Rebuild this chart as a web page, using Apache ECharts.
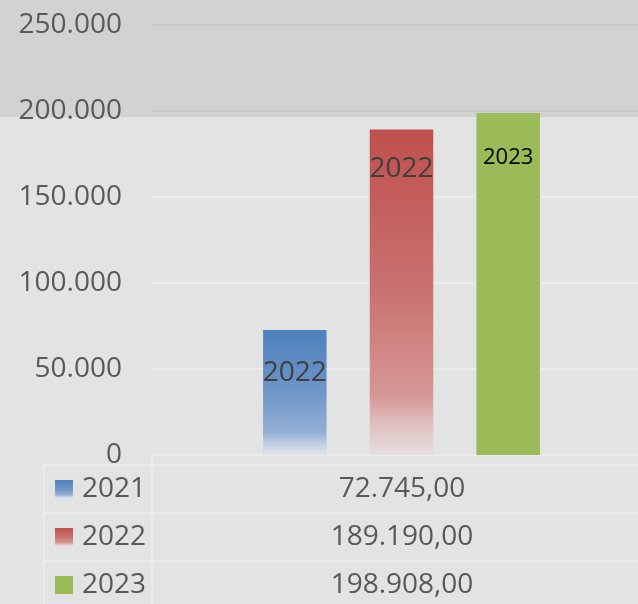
<!DOCTYPE html>
<html>
<head>
<meta charset="utf-8">
<script src="https://cdn.jsdelivr.net/npm/echarts@6/dist/echarts.min.js"></script>
<style>
  html, body { margin: 0; padding: 0; background: #e3e3e3; }
  #main { width: 638px; height: 604px; }
</style>
</head>
<body>
<div id="main"></div>
<script>
// series names (years) and values
let years = ['2021', '2022', '2023']
let values = [72745, 189190, 198908]
// text shown inside each bar
let barLabels = ['2022', '2022', '2023']
// y axis ticks
let yTicks = [0, 50000, 100000, 150000, 200000, 250000]

// colors
let textColor = '#595959'
let font = 'Open Sans'
let blueGrad = [[0, '#4f81bd'], [0.5, '#6f96c8'], [0.82, '#93afd6'], [0.9, '#bccbdf'], [1, '#e0e4ea']]
let redGrad = [[0, '#c0504d'], [0.5, '#c87270'], [0.82, '#d69796'], [0.9, '#dfbdbd'], [1, '#e5e0e0']]
let green = '#9bbb59'

function grad(stops) {
  return new echarts.graphic.LinearGradient(0, 0, 0, 1,
    stops.map(s => ({ offset: s[0], color: s[1] })))
}
let fills = [grad(blueGrad), grad(redGrad), green]

// number formatting: 72.745,00
function thousands(n) {
  return String(Math.round(n)).replace(/\B(?=(\d{3})+(?!\d))/g, '.')
}
function money(n) {
  return thousands(n) + ',00'
}

let labelStyles = [
  { color: '#404040', fontSize: 28, distance: 29 },
  { color: '#404040', fontSize: 28, distance: 25 },
  { color: '#000000', fontSize: 22, distance: 34 }
]

let series = years.map((y, i) => ({
  name: y,
  type: 'bar',
  barWidth: 63.5,
  barGap: '68%',
  data: [values[i]],
  itemStyle: { color: fills[i] },
  label: {
    show: true,
    position: 'insideTop',
    distance: labelStyles[i].distance,
    formatter: barLabels[i],
    color: labelStyles[i].color,
    fontSize: labelStyles[i].fontSize,
    lineHeight: labelStyles[i].fontSize,
    fontFamily: font
  }
}))

// data table under the chart
let rowTop = 465
let rowH = 48
let lineColor = '#ebebeb'
let table = []
// darker top band
table.push({ type: 'rect', z: -10, shape: { x: 0, y: 0, width: 638, height: 117 }, style: { fill: '#d2d2d2' } })
for (let r = 0; r < years.length; r++) {
  let y = rowTop + r * rowH
  table.push({ type: 'line', shape: { x1: 44, y1: y, x2: 638, y2: y }, style: { stroke: lineColor, lineWidth: 2 } })
  // legend key
  table.push({ type: 'rect', shape: { x: 55, y: y + 15, width: 18, height: 18 }, style: { fill: fills[r] } })
  table.push({
    type: 'text', x: 82, y: y + rowH / 2,
    style: { text: years[r], fill: textColor, font: '28px "' + font + '"', verticalAlign: 'middle' }
  })
  table.push({
    type: 'text', x: 402, y: y + rowH / 2,
    style: { text: money(values[r]), fill: textColor, font: '28px "' + font + '"', align: 'center', verticalAlign: 'middle' }
  })
}
table.push({ type: 'line', shape: { x1: 44, y1: rowTop, x2: 44, y2: 604 }, style: { stroke: lineColor, lineWidth: 2 } })
table.push({ type: 'line', shape: { x1: 152, y1: 456, x2: 152, y2: 604 }, style: { stroke: lineColor, lineWidth: 2 } })

let chartDom = document.getElementById('main')
let myChart = echarts.init(chartDom)
let option = {
  backgroundColor: '#e3e3e3',
  animation: false,
  grid: {
    left: 152,
    top: 25,
    width: 499,
    height: 430,
    outerBoundsMode: 'none'
  },
  xAxis: {
    type: 'category',
    data: [''],
    axisLine: { show: true, lineStyle: { color: lineColor, width: 2 } },
    axisTick: { show: false },
    axisLabel: { show: false }
  },
  yAxis: {
    type: 'value',
    min: yTicks[0],
    max: yTicks[yTicks.length - 1],
    interval: yTicks[1] - yTicks[0],
    axisLine: { show: false },
    axisTick: { show: false },
    axisLabel: {
      margin: 30,
      color: textColor,
      fontSize: 28,
      fontFamily: font,
      formatter: v => thousands(v)
    },
    splitLine: {
      show: true,
      lineStyle: {
        width: 2,
        color: ['#ebebeb', '#ebebeb', '#ebebeb', '#ebebeb', '#c8c8c8', '#c8c8c8']
      }
    }
  },
  series: series,
  graphic: table
}

option && myChart.setOption(option)
</script>
</body>
</html>
